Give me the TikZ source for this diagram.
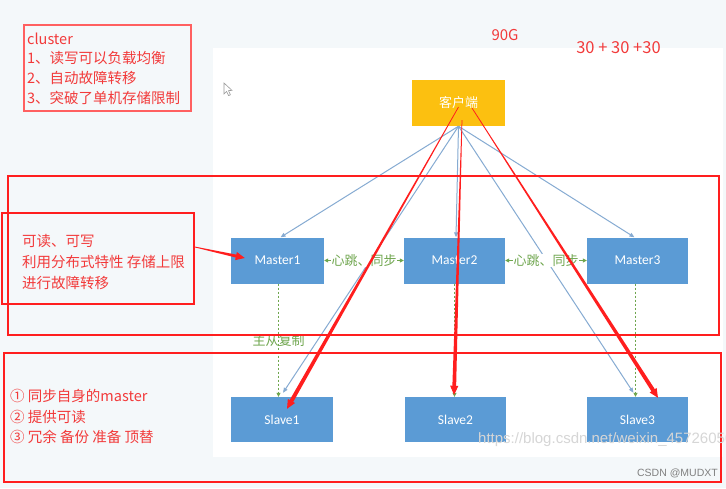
\documentclass[tikz,border=0pt]{standalone}
\usepackage{fontspec}
\setmainfont{Noto Sans CJK SC}
\newfontfamily\boxfont{Carlito}
\newfontfamily\urlfont{Liberation Sans}
\usetikzlibrary{arrows.meta,calc}

\definecolor{pagebg}{HTML}{F4F8FA}
\definecolor{markred}{HTML}{FF1E1E}
\definecolor{notered}{HTML}{F23A3A}
\definecolor{softred}{HTML}{FF6060}
\definecolor{gold}{HTML}{FCC010}
\definecolor{boxblue}{HTML}{5B9BD5}
\definecolor{linkblue}{HTML}{86ABD2}
\definecolor{syncgreen}{HTML}{6FA64E}
\definecolor{wmgray}{HTML}{D6D6D6}

% tapered red marker arrow between two named coordinates
\newcommand\redtaper[4]{%
  \coordinate (tpA) at (#1);
  \coordinate (tpB) at ($(#2)!8pt!(#1)$);
  \fill[markred] ($(tpA)!#3!90:(tpB)$) -- ($(tpB)!#4!-90:(tpA)$)
     -- ($(tpB)!#4!90:(tpA)$) -- ($(tpA)!#3!-90:(tpB)$) -- cycle;
  \draw[markred, line width=1pt, -{Triangle[length=9pt,width=8pt]}] (tpB) -- (#2);
}

\tikzset{
  server/.style={fill=boxblue, text=white, font=\boxfont\fontsize{13.5}{15}\selectfont,
    minimum height=46pt, inner sep=0pt},
  client/.style={fill=gold, text=white, font=\fontsize{13}{15}\selectfont,
    minimum width=93pt, minimum height=46pt, inner sep=0pt},
  link/.style={linkblue, line width=1pt, -{Triangle[length=5pt,width=4pt]}},
  sync/.style={syncgreen, line width=0.8pt,
    {Triangle[length=4pt,width=4pt]}-{Triangle[length=4pt,width=4pt]}},
  synclabel/.style={fill=white, text=syncgreen, inner sep=0.6pt,
    font=\fontsize{13}{14}\selectfont},
  repl/.style={syncgreen, line width=0.8pt, dash pattern=on 2pt off 2pt,
    -{Triangle[length=4pt,width=4pt]}},
  frame/.style={draw=markred, line width=1.8pt, inner sep=0pt},
  note/.style={text=notered, align=left, inner sep=0pt, anchor=west},
}

\begin{document}
\begin{tikzpicture}[x=1pt,y=-1pt]
\useasboundingbox (0,0) rectangle (726,488);
\begin{scope}
\clip (0,0) rectangle (726,488);

% page and embedded sheet
\fill[pagebg] (0,0) rectangle (726,488);
\fill[white] (213,48) rectangle (723,457);

% mouse pointer
\filldraw[fill=white, draw=gray!80, line width=0.6pt]
  (224,83) -- (224,94) -- (226.6,91.4) -- (228.6,95.6) -- (230.4,94.8)
  -- (228.5,90.6) -- (232,90.4) -- cycle;

% nodes
\node[client] (cl) at (458.5,103) {客户端};
\node[server, minimum width=93pt]  (m1) at (277.5,260.5) {Master1};
\node[server, minimum width=101pt] (m2) at (454.5,260.5) {Master2};
\node[server, minimum width=101pt] (m3) at (637.5,260.5) {Master3};
\node[server, minimum width=102pt, minimum height=45pt] (s1) at (282,419.5) {Slave1};
\node[server, minimum width=101pt, minimum height=45pt] (s2) at (455.5,419.5) {Slave2};
\node[server, minimum width=101pt, minimum height=45pt] (s3) at (637.5,419.5) {Slave3};

% client links
\draw[link] (cl.south) -- ([xshift=3pt]m1.north);
\draw[link] (cl.south) -- ([xshift=1.5pt]m2.north);
\draw[link] (cl.south) -- ([xshift=-3pt]m3.north);
\draw[link] (cl.south) -- ([xshift=1pt,yshift=4pt]s1.north);
\draw[link] (cl.south) -- ([xshift=-4pt,yshift=4pt]s3.north);

% heartbeat between masters
\draw[sync] (m1.east) -- node[synclabel] {心跳、同步} (m2.west);
\draw[sync] (m2.east) -- node[synclabel] {心跳、同步} (m3.west);

% master to slave replication
\draw[repl] ([xshift=1pt]m1.south) -- ([xshift=1pt]m1.south |- s1.north);
\draw[repl] (m2.south) -- (m2.south |- s2.north);
\draw[repl] ([xshift=-2pt]m3.south) -- ([xshift=-2pt]m3.south |- s3.north);
\node[text=syncgreen, inner sep=0pt, font=\fontsize{13}{14}\selectfont]
  (rp) at ($([xshift=1pt]m1.south)!0.5!([xshift=1pt]m1.south |- s1.north)$) {主从复制};

% annotations
\node[frame, draw=softred, line width=1.1pt, minimum width=167pt, minimum height=86pt]
  (cb) at (107.5,68) {};
\node[note, font=\fontsize{14.5}{19.7}\selectfont] (cbt) at (27,68.5)
  {cluster\\1、读写可以负载均衡\\2、自动故障转移\\3、突破了单机存储限制};

\node[text=notered, inner sep=0pt, font=\fontsize{15}{16}\selectfont] (t90) at (505,35) {90G};
\node[text=notered, inner sep=0pt, font=\fontsize{16.5}{18}\selectfont] (t30) at (618.5,47.5) {30 + 30 +30};

\node[frame, minimum width=711pt, minimum height=159pt] (fm) at (363.5,255.5) {};
\node[frame, minimum width=717pt, minimum height=129pt] (fs) at (362.5,417.5) {};
\node[frame, minimum width=192pt, minimum height=91pt] (lb) at (98,258.5) {};

\node[note, font=\fontsize{14.5}{21}\selectfont] (lbt) at (22,262.5)
  {可读、可写\\利用分布式特性 存储上限\\进行故障转移};
\node[note, font=\fontsize{14.5}{20.5}\selectfont] (sbt) at (10,416.5)
  {① 同步自身的master\\② 提供可读\\③ 冗余 备份 准备 顶替};

% watermarks
\node[text=wmgray, anchor=west, inner sep=0pt, font=\urlfont\fontsize{15}{17}\selectfont]
  (wm) at (478,440) {https://blog.csdn.net/weixin\_45726050};
\node[text=gray, anchor=east, inner sep=0pt, font=\urlfont\fontsize{10.5}{12}\selectfont]
  (csdn) at (718,473) {CSDN @MUDXT};

% red marker arrows
\coordinate (n1a) at ([yshift=11.5pt]lb.east);
\coordinate (n1b) at ([xshift=14pt,yshift=2.5pt]m1.west);
\redtaper{n1a}{n1b}{0.4pt}{1.5pt}

\coordinate (r1a) at ([yshift=-4pt]cl.center);
\coordinate (r1b) at ([xshift=5pt,yshift=-12pt]s1.north);
\redtaper{r1a}{r1b}{0.35pt}{2pt}

\coordinate (r2a) at ([xshift=3.5pt,yshift=6pt]cl.south);
\coordinate (r2b) at ([xshift=-1.5pt,yshift=2pt]s2.north);
\redtaper{r2a}{r2b}{0.35pt}{1.9pt}

\coordinate (r3a) at ([xshift=13.5pt,yshift=-5pt]cl.center);
\coordinate (r3b) at ([xshift=20.5pt,yshift=-1pt]s3.north);
\redtaper{r3a}{r3b}{0.35pt}{2pt}
\end{scope}
\end{tikzpicture}
\end{document}
